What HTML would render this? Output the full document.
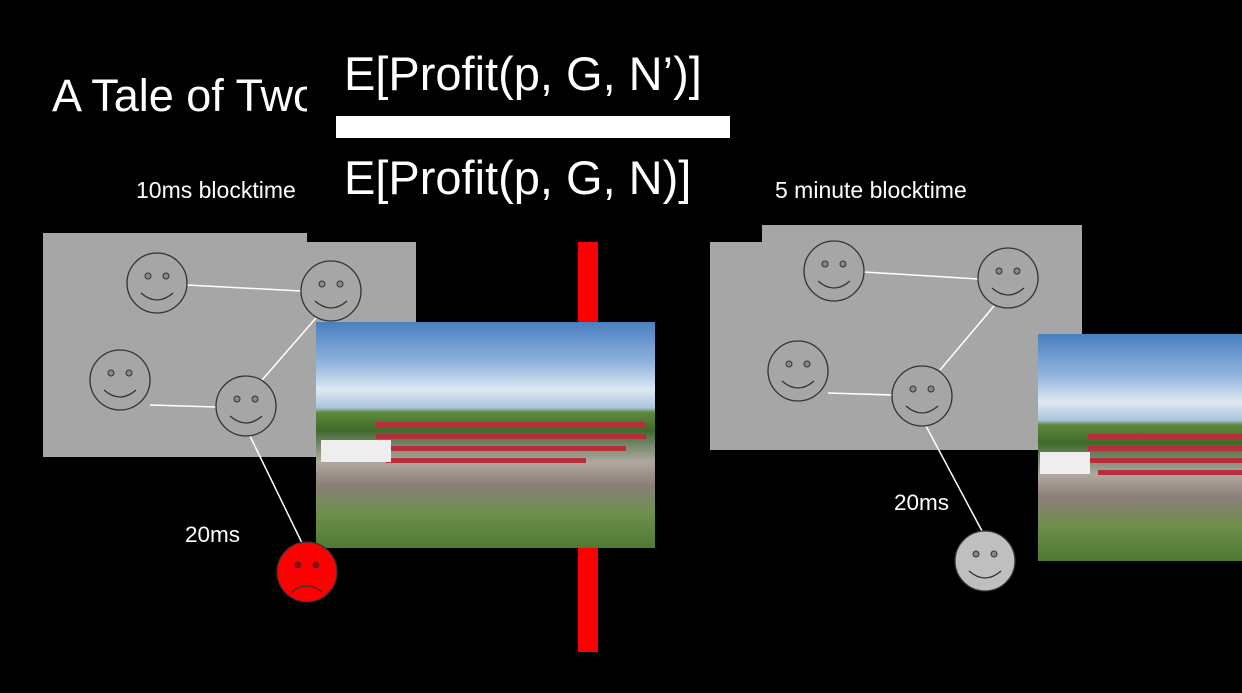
<!DOCTYPE html>
<html><head><meta charset="utf-8"><style>
body{margin:0;width:1242px;height:693px;background:#000;position:relative;overflow:hidden;font-family:"Liberation Sans",sans-serif;color:#fff}
.t{position:absolute;white-space:nowrap}
.photo{position:absolute;overflow:hidden;background:linear-gradient(#4a7fc0 0%,#8fb4dc 18%,#dfe8f2 30%,#a9c3de 38%,#5f8a3c 40%,#3f6a2a 48%,#7a8a70 55%,#b0a8a0 62%,#8c7f78 72%,#6d8f4a 85%,#4f7a33 100%)}
.photo .r{position:absolute;height:5px;background:#b5303a}
</style></head><body>
<div class="t" style="left:52px;top:70px;font-size:45px">A Tale of Two</div>
<div style="position:absolute;left:43px;top:233px;width:373px;height:224px;background:#a6a6a6"></div>
<div style="position:absolute;left:710px;top:225px;width:372px;height:225px;background:#a6a6a6"></div>
<div style="position:absolute;left:307px;top:0;width:455px;height:242px;background:#000"></div>
<div class="t" style="left:344px;top:46px;font-size:47px">E[Profit(p, G, N’)]</div>
<div style="position:absolute;left:336px;top:116px;width:394px;height:22px;background:#fff"></div>
<div class="t" style="left:344px;top:150px;font-size:47px">E[Profit(p, G, N)]</div>
<div class="t" style="left:136px;top:177px;font-size:23px">10ms blocktime</div>
<div class="t" style="left:775px;top:177px;font-size:23px">5 minute blocktime</div>
<div style="position:absolute;left:578px;top:242px;width:20px;height:410px;background:#f00"></div>
<div class="photo" style="left:316px;top:322px;width:339px;height:226px">
<div class="r" style="left:60px;top:100px;width:270px"></div><div class="r" style="left:60px;top:112px;width:270px"></div><div class="r" style="left:60px;top:124px;width:250px"></div><div class="r" style="left:70px;top:136px;width:200px"></div>
<div style="position:absolute;left:5px;top:118px;width:70px;height:22px;background:#eee"></div></div>
<div class="photo" style="left:1038px;top:334px;width:204px;height:227px">
<div class="r" style="left:50px;top:100px;width:160px"></div><div class="r" style="left:50px;top:112px;width:160px"></div><div class="r" style="left:50px;top:124px;width:160px"></div><div class="r" style="left:60px;top:136px;width:150px"></div>
<div style="position:absolute;left:2px;top:118px;width:50px;height:22px;background:#eee"></div></div>
<div class="t" style="left:185px;top:522px;font-size:22.5px">20ms</div>
<div class="t" style="left:894px;top:490px;font-size:22.5px">20ms</div>
<svg width="1242" height="693" style="position:absolute;left:0;top:0">
<g stroke="#fff" stroke-width="1.5">
<line x1="187" y1="285" x2="301" y2="291"/><line x1="316" y1="318" x2="262" y2="380"/><line x1="150" y1="405" x2="216" y2="407"/><line x1="250" y1="436" x2="302" y2="543"/>
<line x1="864" y1="272" x2="978" y2="279"/><line x1="994" y1="306" x2="940" y2="370"/><line x1="828" y1="393" x2="892" y2="395"/><line x1="926" y1="426" x2="982" y2="531"/>
</g>
<defs><g id="s"><circle r="30" fill="#a6a6a6" stroke="#333" stroke-width="1.3"/><circle cx="-9" cy="-7" r="3" fill="#888" stroke="#333"/><circle cx="9" cy="-7" r="3" fill="#888" stroke="#333"/><path d="M-16 10 Q0 24 16 10" fill="none" stroke="#333" stroke-width="1.3"/></g></defs>
<use href="#s" x="157" y="283"/><use href="#s" x="331" y="291"/><use href="#s" x="120" y="380"/><use href="#s" x="246" y="406"/>
<use href="#s" x="834" y="271"/><use href="#s" x="1008" y="278"/><use href="#s" x="798" y="371"/><use href="#s" x="922" y="396"/>
<g transform="translate(985,561)"><circle r="30" fill="#bfbfbf" stroke="#333" stroke-width="1.3"/><circle cx="-9" cy="-7" r="3" fill="#888" stroke="#333"/><circle cx="9" cy="-7" r="3" fill="#888" stroke="#333"/><path d="M-16 10 Q0 24 16 10" fill="none" stroke="#333" stroke-width="1.3"/></g>
<g transform="translate(307,572)"><circle r="30" fill="#f00" stroke="#333" stroke-width="1.3"/><circle cx="-9" cy="-7" r="3" fill="#a00" stroke="#333"/><circle cx="9" cy="-7" r="3" fill="#a00" stroke="#333"/><path d="M-15 20 Q0 8 15 20" fill="none" stroke="#333" stroke-width="1.3"/></g>
</svg>
</body></html>
